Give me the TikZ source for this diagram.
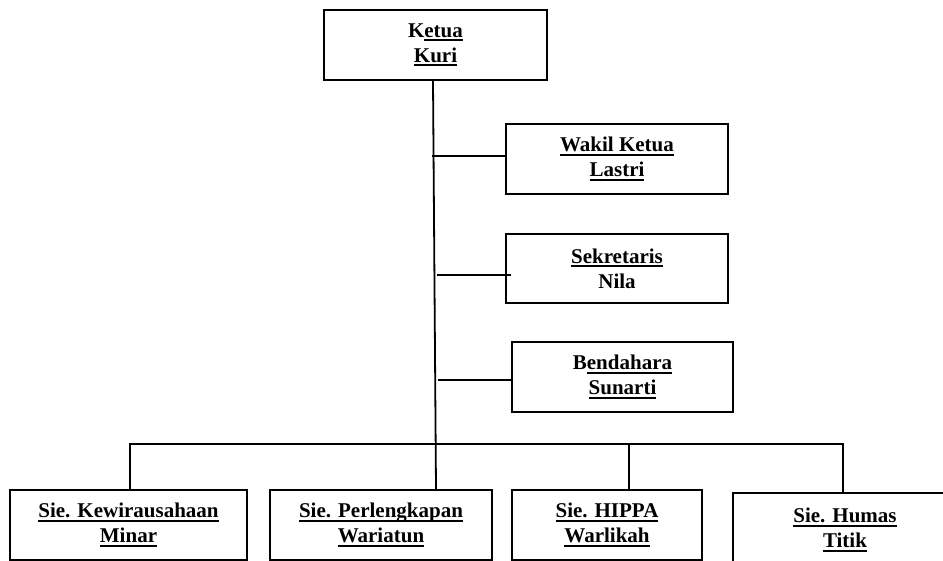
\documentclass[tikz,border=0pt]{standalone}
\usepackage{fontspec}
\setmainfont{Liberation Serif}
\newlength\ulwidth
% underlined word with a heavy rule just below the baseline
\newcommand\ulword[1]{\settowidth\ulwidth{#1}\rlap{\rule[-4pt]{\ulwidth}{2.2pt}}#1}
\tikzset{
  unit/.style={draw, line width=1.8pt, inner sep=0pt, align=center,
    font=\bfseries\fontsize{21}{25}\selectfont},
  link/.style={line width=1.8pt},
}
\begin{document}
\begin{tikzpicture}[x=1pt,y=-1pt]
\useasboundingbox (0,0) rectangle (943,561);
\clip (0,0) rectangle (943,561);

% leadership
\node[unit, minimum width=223pt, minimum height=70pt] (ketua) at (435.5,45)
  {K\ulword{etua}\\\ulword{Kuri}};
\node[unit, minimum width=222pt, minimum height=70pt] (wakil) at (617,159)
  {\ulword{Wakil Ketua}\\\ulword{Lastri}};
\node[unit, minimum width=222pt, minimum height=69pt] (sek) at (617,268.5)
  {\ulword{Sekretaris}\\Nila};
\node[unit, minimum width=221pt, minimum height=70pt] (bend) at (622.5,377)
  {B\ulword{endahara}\\\ulword{Sunarti}};

% sections
\node[unit, minimum width=237pt, minimum height=70pt] (kew) at (128.5,525)
  {\ulword{Sie. Kewirausahaan}\\\ulword{Minar}};
\node[unit, minimum width=222pt, minimum height=70pt] (perl) at (381,525)
  {\ulword{Sie. Perlengkapan}\\\ulword{Wariatun}};
\node[unit, minimum width=190pt, minimum height=70pt] (hippa) at (607,525)
  {\ulword{Sie. HIPPA}\\\ulword{Warlikah}};
\node[unit, minimum width=224pt, minimum height=74pt] (humas) at (845,530)
  {\ulword{Sie. Humas}\\\ulword{Titik}};

% main spine
\draw[link] ([xshift=-2.5pt]ketua.south) -- ([xshift=55pt]perl.north);

% branches to the deputies
\coordinate (w0) at (432,156);
\coordinate (s0) at (437,275);
\coordinate (b0) at (438,380);
\draw[link] (w0) -- (w0 -| wakil.west);
\draw[link] (s0) -- ([xshift=6pt]s0 -| sek.west);
\draw[link] (b0) -- (b0 -| bend.west);

% bus to the sections
\coordinate (bus) at (0,444);
\draw[link] ([xshift=1.5pt]kew.north) -- ([xshift=1.5pt]kew.north |- bus)
  -- ([xshift=-2pt]humas.north |- bus) -- ([xshift=-2pt]humas.north);
\draw[link] ([xshift=22pt]hippa.north) -- ([xshift=22pt]hippa.north |- bus);
\end{tikzpicture}
\end{document}
